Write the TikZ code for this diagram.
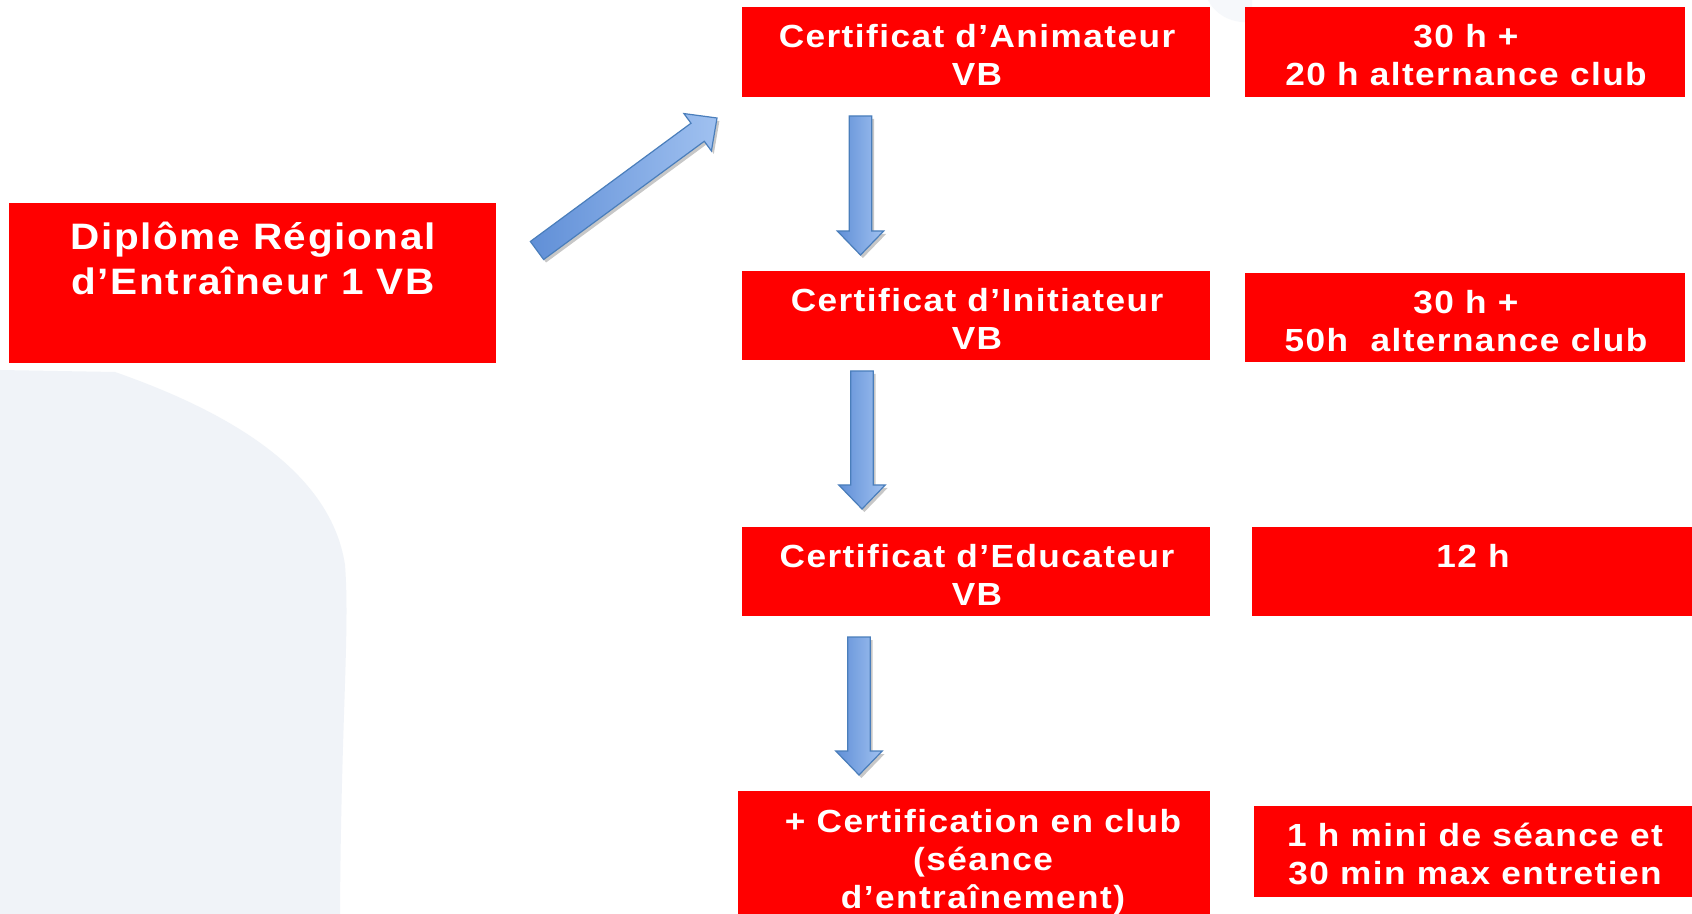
\documentclass[tikz,border=0pt]{standalone}
\usepackage{fontspec}
\setmainfont{Liberation Sans}[FakeStretch=1.1,LetterSpace=4.5]
\usetikzlibrary{calc,fit,shadows}
\definecolor{boxred}{RGB}{255,0,0}
\definecolor{bgshape}{RGB}{240,243,248}
\definecolor{arrowdark}{RGB}{74,126,187}
\definecolor{arrowleft}{RGB}{96,143,215}
\definecolor{arrowright}{RGB}{160,193,240}
\tikzset{
  redbox/.style={fill=boxred, draw=none, inner sep=0pt},
  lbl/.style={anchor=north, align=center, text=white, inner sep=0pt,
    font=\bfseries\fontsize{16}{19}\selectfont},
  biglbl/.style={anchor=north, align=center, text=white, inner sep=0pt,
    font=\bfseries\fontsize{18.4}{22.5}\selectfont},
  barrow/.style={draw=arrowdark, line width=0.6pt, line join=miter,
    left color=arrowleft, right color=arrowright,
    drop shadow={shadow xshift=1.2pt, shadow yshift=-1.5pt, opacity=0.22, fill=black}}
}
% block arrow from #1 to #2
\newcommand\blockarrow[2]{%
  \path[barrow] let \p1=($(#2)-(#1)$), \n1={atan2(\y1,\x1)}, \n2={veclen(\x1,\y1)}, \n3={\n2-12} in
    ($(#1)+(\n1+90:5.6pt)$) --
    ($(#1)+(\n1:\n3)+(\n1+90:5.6pt)$) --
    ($(#1)+(\n1:\n3)+(\n1+90:11.6pt)$) --
    (#2) --
    ($(#1)+(\n1:\n3)+(\n1-90:11.6pt)$) --
    ($(#1)+(\n1:\n3)+(\n1-90:5.6pt)$) --
    ($(#1)+(\n1-90:5.6pt)$) -- cycle;}
\begin{document}
\begin{tikzpicture}[x=0.5pt,y=-0.5pt]
\useasboundingbox (0,0) rectangle (1692,914);
\fill[white] (0,0) rectangle (1692,914);
% background decoration
\fill[bgshape] (0,370) -- (115,372) .. controls (215,407) and (330,465) .. (345,565)
  .. controls (350,630) and (341,720) .. (340,914) -- (0,914) -- cycle;
\fill[bgshape!60] (1208,0) .. controls (1216,16) and (1234,24) .. (1252,22) -- (1252,0) -- cycle;
% boxes
\node[redbox, fit={(8.6,203) (496,363)}] (dip) {};
\node[redbox, fit={(742,7.5) (1210,97)}] (anim) {};
\node[redbox, fit={(1245,7.5) (1685,97)}] (r1) {};
\node[redbox, fit={(742,271) (1210,360)}] (init) {};
\node[redbox, fit={(1245,273) (1685,362.5)}] (r2) {};
\node[redbox, fit={(742,527) (1210,616)}] (educ) {};
\node[redbox, fit={(1252,527) (1692,616)}] (r3) {};
\node[redbox, fit={(738,791) (1210,914)}] (cert) {};
\node[redbox, fit={(1254,806) (1692,897)}] (r4) {};
% texts
\node[biglbl] (dipt) at (253,222) {Diplôme Régional\\d’Entraîneur 1 VB};
\node[lbl] (animt) at (977,24) {Certificat d’Animateur\\VB};
\node[lbl] (r1t) at (1466,24) {30 h +\\20 h alternance club};
\node[lbl] (initt) at (977,288) {Certificat d’Initiateur\\VB};
\node[lbl] (r2t) at (1466,290) {30 h +\\50h~~alternance club};
\node[lbl] (educt) at (977,543.5) {Certificat d’Educateur\\VB};
\node[lbl] (r3t) at (1473,543.5) {12 h};
\node[lbl] (certt) at (983,809) {+ Certification en club\\(séance\\d’entraînement)};
\node[lbl] (r4t) at (1475,823) {1 h mini de séance et\\30 min max entretien};
% arrows
\coordinate (a0s) at (537,250.5);
\coordinate (a0e) at (717,118);
\coordinate (a1s) at (860.5,116);
\coordinate (a1e) at (860.5,255);
\coordinate (a2s) at (862,371);
\coordinate (a2e) at (862,509);
\coordinate (a3s) at (859,637);
\coordinate (a3e) at (859,775);
\blockarrow{a0s}{a0e}
\blockarrow{a1s}{a1e}
\blockarrow{a2s}{a2e}
\blockarrow{a3s}{a3e}
\end{tikzpicture}
\end{document}
